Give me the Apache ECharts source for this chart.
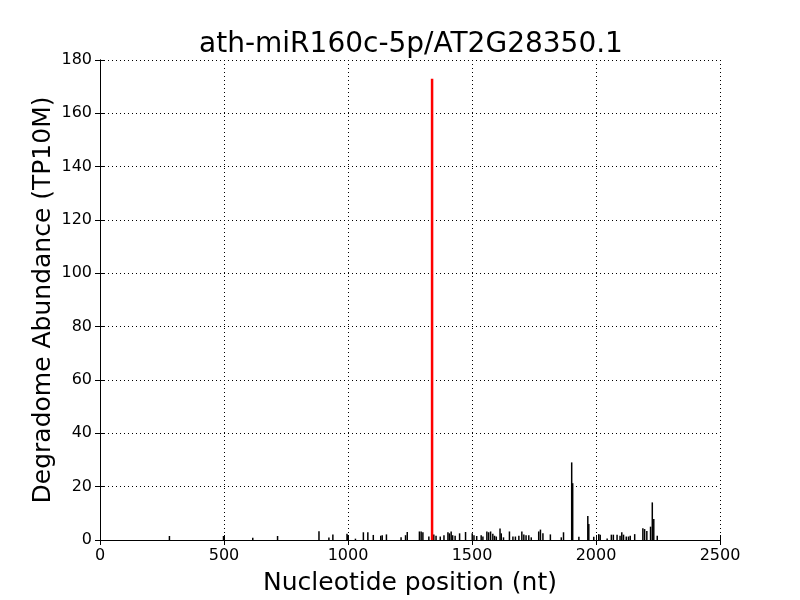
<!DOCTYPE html>
<html><head><meta charset="utf-8">
<script src="https://cdn.jsdelivr.net/npm/echarts@6/dist/echarts.min.js"></script>
<style>html,body{margin:0;padding:0;background:#fff}#c{width:800px;height:600px}</style>
</head><body><div id="c"></div>
<script>
var titleText = "ath-miR160c-5p/AT2G28350.1";
var xName = "Nucleotide position (nt)";
var yName = "Degradome Abundance (TP10M)";
var xTicks = [0, 500, 1000, 1500, 2000, 2500];
var yTicks = [0, 20, 40, 60, 80, 100, 120, 140, 160, 180];

var blackPos = [282, 500, 618, 718, 885, 925, 941, 998, 1001, 1032, 1064, 1082, 1104, 1134, 1140, 1157,
  1216, 1234, 1241, 1290, 1297, 1304, 1328, 1348, 1357, 1374, 1389, 1405, 1411, 1418, 1424, 1434, 1452, 1476,
  1503, 1510, 1521, 1539, 1546, 1562, 1569, 1577, 1586, 1593, 1600, 1615, 1620, 1629, 1653, 1667, 1677, 1691,
  1703, 1711, 1720, 1731, 1741, 1771, 1778, 1788, 1818, 1862, 1871, 1904, 1908, 1933, 1969, 1973, 1993, 2013,
  2019, 2047, 2064, 2072, 2087, 2099, 2106, 2113, 2124, 2133, 2140, 2158, 2191, 2198, 2207, 2222, 2229, 2235, 2249];
var blackVal = [1.5, 1.5, 0.8, 1.5, 3.3, 0.9, 2.1, 2.3, 1.8, 0.5, 2.9, 2.9, 1.9, 1.6, 1.8, 2.1,
  1.0, 1.8, 3.0, 3.2, 3.2, 2.9, 1.3, 2.1, 1.6, 1.3, 1.8, 2.9, 2.5, 3.2, 1.8, 1.6, 2.5, 3.0,
  2.5, 1.8, 1.5, 1.8, 1.3, 3.2, 2.9, 3.2, 2.3, 1.6, 1.3, 4.3, 2.5, 1.0, 3.2, 1.3, 1.3, 1.6,
  3.2, 2.1, 1.8, 1.8, 1.0, 3.2, 3.9, 2.5, 2.1, 1.0, 2.9, 29.1, 21.3, 1.2, 9.0, 6.0, 1.2, 2.2,
  2.0, 0.6, 2.0, 2.0, 2.0, 1.6, 2.9, 2.0, 1.3, 1.3, 1.6, 2.2, 4.4, 4.1, 3.4, 5.0, 14.1, 7.9, 1.6];
var redPos = [1339];
var redVal = [173];

var FONT = "DejaVu Sans";
function pairs(p, v) { return p.map(function (x, i) { return [x, v[i]]; }); }

var chart = echarts.init(document.getElementById('c'), null, {renderer: 'canvas'});
var gridLine = {show: true, lineStyle: {color: '#000', type: [1, 3], width: 1}};
var tickIn = {show: true, inside: true, length: 5, lineStyle: {color: '#000'}};
chart.setOption({
  animation: false,
  backgroundColor: '#fff',
  title: {text: titleText, left: 406, textAlign: 'center', top: 26,
    textStyle: {fontFamily: FONT, fontSize: 28, fontWeight: 'normal', color: '#000'}},
  grid: {left: 100, right: 80, top: 60, bottom: 60, containLabel: false, outerBoundsMode: 'none'},
  xAxis: [{
    type: 'value', min: xTicks[0], max: xTicks[xTicks.length - 1], interval: 500,
    name: xName, nameLocation: 'middle', nameGap: 31, nameMoveOverlap: false,
    nameTextStyle: {fontFamily: FONT, fontSize: 25, color: '#000'},
    axisLine: {show: true, lineStyle: {color: '#000', width: 1}},
    axisTick: tickIn, splitLine: gridLine,
    axisLabel: {fontFamily: FONT, fontSize: 16, color: '#000', margin: 8, formatter: function (v) { return String(v); }}
  }, {
    type: 'value', position: 'top', min: xTicks[0], max: xTicks[xTicks.length - 1], interval: 500,
    axisLine: {show: true, lineStyle: {color: '#000', width: 1}},
    axisTick: tickIn, splitLine: {show: false}, axisLabel: {show: false}
  }],
  yAxis: [{
    type: 'value', min: yTicks[0], max: yTicks[yTicks.length - 1], interval: 20,
    name: yName, nameLocation: 'middle', nameGap: 44, nameMoveOverlap: false,
    nameTextStyle: {fontFamily: FONT, fontSize: 25, color: '#000'},
    axisLine: {show: true, lineStyle: {color: '#000', width: 1}},
    axisTick: tickIn, splitLine: gridLine,
    axisLabel: {fontFamily: FONT, fontSize: 16, color: '#000', margin: 8, formatter: function (v) { return String(v); }}
  }, {
    type: 'value', position: 'right', min: yTicks[0], max: yTicks[yTicks.length - 1], interval: 20,
    axisLine: {show: true, lineStyle: {color: '#000', width: 1}},
    axisTick: tickIn, splitLine: {show: false}, axisLabel: {show: false}
  }],
  series: [{
    type: 'bar', xAxisIndex: 0, yAxisIndex: 0, barWidth: 1.5, barGap: '-100%',
    itemStyle: {color: '#000'}, data: pairs(blackPos, blackVal), z: 3
  }, {
    type: 'bar', xAxisIndex: 0, yAxisIndex: 0, barWidth: 2.5, barGap: '-100%',
    itemStyle: {color: '#ff0000'}, data: pairs(redPos, redVal), z: 4
  }]
});
</script></body></html>
